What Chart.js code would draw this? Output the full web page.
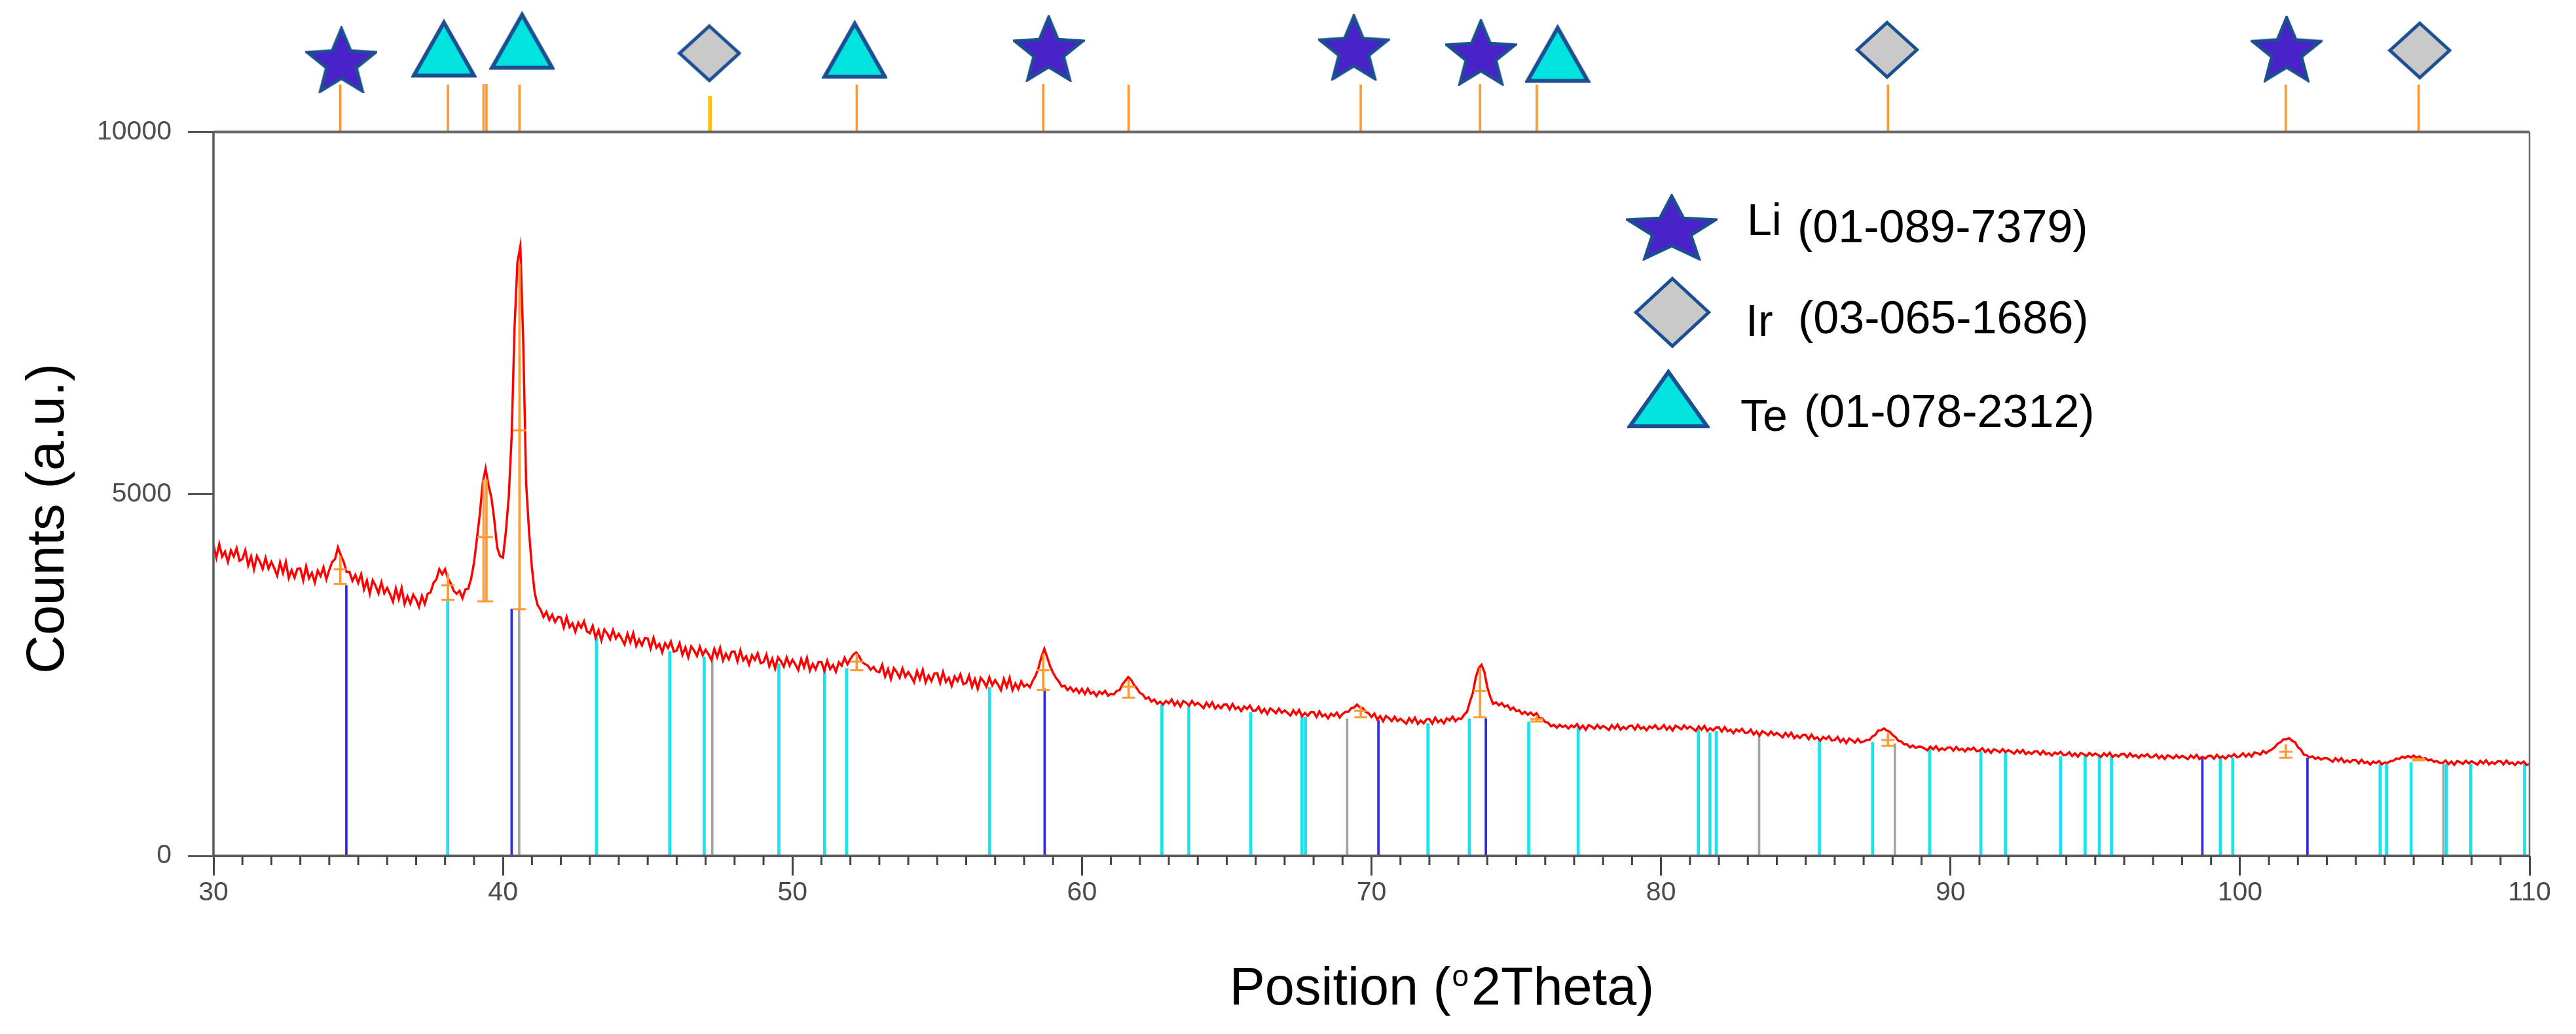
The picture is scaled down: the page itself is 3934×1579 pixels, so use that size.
<!DOCTYPE html>
<html>
<head>
<meta charset="utf-8">
<script src="https://cdn.jsdelivr.net/npm/chart.js@4.4.1/dist/chart.umd.min.js"></script>
<style>
html,body{margin:0;padding:0;background:#fff;}
#wrap{width:3934px;height:1579px;position:relative;}
</style>
</head>
<body>
<div id="wrap"><canvas id="c"></canvas></div>
<script>
// ---------- measured pattern (2Theta grid start / step, counts) ----------
const angleStart = 30;
const angleStep = 0.1;
const counts = [
4290,4118,4306,4134,4202,4060,4218,4136,4249,4077,
4100,4222,4014,4136,3958,4140,4067,3964,4116,3968,
4060,3973,3871,4054,3907,4060,3838,3946,3844,3967,
3970,3805,4000,3835,3910,3775,3940,3865,3985,3820,
3950,4060,4100,4260,4150,4060,3920,3920,3800,3880,
3770,3891,3682,3803,3624,3805,3731,3627,3778,3629,
3700,3613,3511,3694,3547,3700,3478,3586,3484,3607,
3540,3440,3590,3480,3620,3640,3770,3820,3960,3890,
3960,3830,3760,3660,3620,3660,3560,3680,3690,3830,
4050,4380,4720,5150,5350,5120,4950,4640,4260,4140,
4120,4480,4960,5800,7300,8200,8420,7100,5150,4480,
3980,3620,3460,3400,3300,3370,3260,3330,3230,3300,
3292,3152,3300,3160,3212,3096,3220,3152,3240,3100,
3076,3177,3014,3116,2977,3126,3072,2993,3118,3004,
3068,3000,2920,3068,2952,3076,2900,2988,2908,3008,
3002,2863,3012,2874,2927,2812,2938,2871,2960,2822,
2836,2938,2777,2879,2742,2892,2839,2761,2888,2774,
2848,2784,2707,2859,2746,2874,2701,2793,2716,2820,
2822,2686,2837,2701,2756,2644,2771,2707,2798,2662,
2676,2780,2620,2724,2588,2741,2689,2613,2741,2629,
2708,2644,2567,2719,2606,2734,2561,2653,2576,2680,
2680,2558,2696,2580,2637,2544,2673,2629,2736,2647,
2720,2780,2810,2760,2680,2650,2630,2570,2610,2550,
2536,2638,2477,2579,2442,2592,2539,2461,2588,2474,
2538,2475,2399,2552,2441,2569,2398,2491,2415,2520,
2522,2387,2539,2404,2461,2349,2478,2415,2507,2372,
2386,2492,2334,2440,2306,2460,2410,2336,2466,2356,
2428,2365,2289,2442,2331,2459,2288,2381,2305,2410,
2340,2370,2330,2420,2490,2600,2750,2860,2740,2620,
2530,2460,2410,2340,2350,2290,2330,2270,2310,2250,
2306,2236,2310,2240,2266,2208,2270,2236,2280,2211,
2240,2230,2280,2290,2370,2420,2470,2430,2360,2310,
2250,2230,2170,2190,2130,2160,2100,2130,2090,2140,
2108,2160,2080,2132,2064,2140,2114,2076,2140,2084,
2114,2081,2041,2116,2059,2121,2034,2079,2039,2090,
2091,2022,2098,2029,2056,2000,2063,2030,2075,2006,
2008,2059,1978,2030,1961,2036,2009,1970,2034,1977,
2009,1976,1936,2011,1954,2016,1929,1974,1934,1985,
1986,1918,1995,1927,1955,1900,1964,1932,1979,1911,
1960,1990,1990,2040,2050,2090,2050,2040,1990,1970,
1918,1966,1883,1931,1860,1932,1903,1861,1922,1862,
1894,1862,1825,1901,1845,1910,1824,1870,1833,1885,
1891,1828,1910,1847,1880,1830,1899,1872,1924,1861,
1900,1890,1950,1990,2130,2250,2460,2590,2640,2540,
2330,2200,2100,2120,2080,2110,2060,2080,2020,2050,
2000,2010,1960,1990,1950,1980,1940,1970,1900,1900,
1850,1840,1790,1810,1770,1810,1780,1800,1760,1800,
1777,1821,1755,1799,1743,1807,1786,1755,1808,1762,
1795,1770,1740,1805,1759,1812,1742,1781,1751,1795,
1800,1745,1810,1755,1780,1735,1790,1765,1805,1750,
1762,1807,1742,1787,1732,1797,1777,1747,1802,1757,
1785,1758,1727,1790,1743,1796,1726,1764,1732,1773,
1775,1717,1779,1721,1743,1695,1747,1719,1756,1698,
1702,1744,1676,1718,1660,1722,1699,1666,1718,1670,
1700,1671,1637,1699,1650,1701,1627,1663,1629,1670,
1670,1612,1674,1616,1638,1590,1642,1614,1651,1593,
1600,1642,1574,1616,1558,1620,1597,1564,1616,1568,
1580,1600,1600,1650,1670,1730,1735,1760,1730,1715,
1670,1640,1590,1580,1540,1540,1500,1525,1490,1510,
1506,1484,1459,1509,1472,1514,1457,1487,1462,1496,
1499,1454,1505,1461,1481,1443,1486,1465,1496,1447,
1454,1488,1434,1469,1423,1474,1456,1431,1474,1434,
1461,1438,1412,1461,1423,1464,1406,1435,1409,1442,
1444,1399,1449,1404,1422,1385,1428,1406,1437,1391,
1397,1432,1380,1415,1371,1422,1404,1379,1422,1386,
1414,1393,1368,1418,1380,1424,1366,1397,1372,1407,
1409,1364,1416,1372,1392,1355,1396,1375,1406,1360,
1367,1402,1349,1384,1339,1390,1372,1348,1391,1354,
1381,1360,1336,1388,1351,1395,1339,1370,1344,1380,
1384,1342,1396,1354,1376,1342,1388,1370,1404,1362,
1377,1418,1371,1412,1373,1430,1419,1400,1449,1418,
1450,1470,1500,1550,1570,1610,1610,1625,1590,1570,
1500,1470,1400,1390,1360,1375,1340,1360,1330,1350,
1351,1328,1300,1349,1310,1350,1291,1320,1292,1325,
1324,1278,1328,1281,1299,1261,1303,1280,1310,1264,
1290,1285,1310,1315,1345,1340,1370,1355,1380,1360,
1385,1355,1375,1340,1350,1320,1330,1300,1310,1285,
1282,1318,1266,1302,1258,1310,1294,1270,1314,1278,
1306,1285,1261,1313,1277,1320,1264,1294,1270,1305,
1309,1264,1316,1271,1291,1254,1297,1276,1302,1256,
1270
];

// ---------- reference stick patterns ----------
const liPos = [34.59, 40.30, 58.71, 70.24, 73.95, 98.70, 102.33];
const liHeight = [3735, 3410, 2307, 1874, 1895, 1354, 1354];
const irPos = [40.56, 47.23, 69.16, 83.39, 88.08, 107.03];
const irHeight = [3410, 2748, 1895, 1657, 1549, 1268];
const tePos = [38.09, 43.23, 45.76, 46.95, 49.53, 51.11, 51.87, 56.81, 62.76, 63.69, 65.83, 67.60, 67.72, 71.95, 73.38, 75.43, 77.14, 81.29, 81.69, 81.91, 85.47, 87.31, 89.28, 91.05, 91.90, 93.80, 94.65, 95.14, 95.56, 99.32, 99.75, 104.84, 105.06, 105.91, 107.13, 107.97, 109.83];
const teHeight = [3519, 3021, 2826, 2748, 2653, 2575, 2588, 2328, 2090, 2090, 1982, 1917, 1917, 1830, 1895, 1852, 1787, 1744, 1701, 1722, 1614, 1571, 1484, 1441, 1419, 1376, 1376, 1376, 1376, 1354, 1354, 1268, 1268, 1289, 1268, 1268, 1268];

// ---------- found peaks (orange markers) ----------
const peakPos  = [34.38, 38.10, 39.33, 39.43, 40.57, 52.22, 58.66, 61.61, 69.63, 73.75, 75.71, 87.84, 101.58, 106.17];
const peakBase = [3757, 3535, 3515, 3515, 3406, 2564, 2292, 2186, 1915, 1915, 1855, 1519, 1355, 1320];
const peakMid  = [3959, 3737, 4403, 4403, 5878, 2684, 2564, 2337, 2005, 2277, 1890, 1600, 1437, 1338];
const peakTop  = [4141, 3898, 5191, 5191, 8181, 2790, 2790, 2437, 2069, 2594, 1939, 1700, 1540, 1355];
const peakTickTop = [10650, 10650, 10660, 10660, 10650, 10650, 10660, 10650, 10650, 10660, 10650, 10650, 10650, 10650];
const extraTickPos = [47.15];
const extraTickTop = [10490];

// ---------- phase symbols above the frame ----------
const liSymPos = [34.42, 58.85, 69.39, 73.78, 101.61];
const liSymY   = [10995, 11153, 11167, 11099, 11148];
const teSymPos = [37.96, 40.66, 52.15, 76.43];
const teSymY   = [11158, 11266, 11144, 11085];
const irSymPos = [47.13, 87.81, 106.21];
const irSymY   = [11086, 11135, 11126];

// ---------- axes / labels ----------
const yTickValues = [0, 5000, 10000];
const legendNames = ['Li', 'Ir', 'Te'];
const legendCodes = ['(01-089-7379)', '(03-065-1686)', '(01-078-2312)'];
const xTitleMain = ['Position (', 'o', '2Theta)'];
const yTitle = 'Counts (a.u.)';

const FAM = "'Liberation Sans', Arial, Helvetica, sans-serif";
const EDGE = '#1c4e92';

function makeMarker(kind, w, h) {
  const c = document.createElement('canvas');
  c.width = Math.round(w); c.height = Math.round(h);
  const g = c.getContext('2d');
  const lw = kind === 'tri' ? 6 : 5;
  const p = lw / 2 + 1;
  g.beginPath();
  if (kind === 'star') {
    const sx = (w - 2 * p) / 1.902, sy = (h - 2 * p) / 1.809;
    for (let k = 0; k < 10; k++) {
      const a = -Math.PI / 2 + k * Math.PI / 5;
      const rr = k % 2 === 0 ? 1 : 0.44;
      const X = p + (Math.cos(a) * rr + 0.951) * sx;
      const Y = p + (Math.sin(a) * rr + 1) * sy;
      if (k) g.lineTo(X, Y); else g.moveTo(X, Y);
    }
    g.fillStyle = '#4a22c9';
  } else if (kind === 'tri') {
    g.moveTo(w / 2, p + 3); g.lineTo(w - p, h - p); g.lineTo(p, h - p);
    g.fillStyle = '#00e3df';
  } else {
    g.moveTo(w / 2, p); g.lineTo(w - p, h / 2); g.lineTo(w / 2, h - p); g.lineTo(p, h / 2);
    g.fillStyle = '#c9c9c9';
  }
  g.closePath();
  g.fill();
  g.lineJoin = 'miter';
  g.strokeStyle = EDGE; g.lineWidth = lw; g.stroke();
  return c;
}
const starImg = makeMarker('star', 110, 102);
const triImg = makeMarker('tri', 100, 92);
const diaImg = makeMarker('dia', 98, 90);
const legendImgs = [makeMarker('star', 140, 102), makeMarker('dia', 118, 110), makeMarker('tri', 126, 94)];

const sticks = (pos, h) => pos.map((p, i) => ({ x: p, y: [0, h[i]] }));
const pts = (pos, v) => pos.map((p, i) => ({ x: p, y: v[i] }));

const pattern = counts.map((c, i) => ({ x: +(angleStart + i * angleStep).toFixed(2), y: c }));

function line(ctx, x1, y1, x2, y2) { ctx.beginPath(); ctx.moveTo(x1, y1); ctx.lineTo(x2, y2); ctx.stroke(); }

const decor = {
  id: 'decor',
  afterDatasetsDraw(chart) {
    const { ctx, chartArea: a, scales: { x, y } } = chart;
    const y0 = y.getPixelForValue(0), y1 = y.getPixelForValue(10000);
    ctx.save();
    ctx.strokeStyle = '#6a6a6a';
    ctx.lineWidth = 4; line(ctx, a.left, y1, a.right, y1);
    ctx.lineWidth = 2.5; line(ctx, a.right, y1, a.right, y0);
    ctx.strokeStyle = '#5a5a5a';
    ctx.lineWidth = 3.5; line(ctx, a.left, y1, a.left, y0 + 2);
    ctx.lineWidth = 4; line(ctx, a.left, y0, a.right, y0);
    ctx.strokeStyle = '#444';
    ctx.lineWidth = 3;
    for (let v = 31; v < 110; v++) {
      if (v % 10 === 0) continue;
      const px = x.getPixelForValue(v);
      line(ctx, px, y0, px, y0 + 14);
    }
    ctx.restore();
  },
  afterDraw(chart) {
    const { ctx } = chart;
    ctx.save();
    ctx.fillStyle = '#000';
    // y title
    ctx.save();
    ctx.translate(97, 792);
    ctx.rotate(-Math.PI / 2);
    ctx.font = `82px ${FAM}`;
    ctx.textAlign = 'center'; ctx.textBaseline = 'alphabetic';
    ctx.fillText(yTitle, 0, 0);
    ctx.restore();
    // x title with raised small o
    ctx.textAlign = 'left'; ctx.textBaseline = 'alphabetic';
    ctx.font = `81px ${FAM}`;
    const w1 = ctx.measureText(xTitleMain[0]).width;
    const w3 = ctx.measureText(xTitleMain[2]).width;
    ctx.font = `46px ${FAM}`;
    const wo = ctx.measureText(xTitleMain[1]).width;
    const total = w1 + wo + 6 + w3;
    let sx = 2202 - total / 2;
    ctx.font = `81px ${FAM}`;
    ctx.fillText(xTitleMain[0], sx, 1534);
    ctx.font = `46px ${FAM}`;
    ctx.fillText(xTitleMain[1], sx + w1 + 2, 1506);
    ctx.font = `81px ${FAM}`;
    ctx.fillText(xTitleMain[2], sx + w1 + wo + 6, 1534);
    // legend
    const lx = [2553, 2554, 2548], ly = [347, 477, 608];
    const nx = [2668, 2666, 2658], nb = [359, 513, 658];
    const cx = [2745, 2746, 2755], cb = [370, 509, 652];
    for (let i = 0; i < 3; i++) {
      const im = legendImgs[i];
      ctx.drawImage(im, lx[i] - im.width / 2, ly[i] - im.height / 2);
      ctx.font = `68px ${FAM}`;
      ctx.fillText(legendNames[i], nx[i], nb[i]);
      ctx.font = `70px ${FAM}`;
      ctx.fillText(legendCodes[i], cx[i], cb[i]);
    }
    ctx.restore();
  }
};

const ORANGE = '#ff9a33';

new Chart(document.getElementById('c'), {
  type: 'scatter',
  data: {
    datasets: [
      { type: 'bar', label: 'Te ref', data: sticks(tePos, teHeight), backgroundColor: '#17e4ee', borderWidth: 0, barThickness: 4, grouped: false, order: 6 },
      { type: 'bar', label: 'Ir ref', data: sticks(irPos, irHeight), backgroundColor: '#a3a3a3', borderWidth: 0, barThickness: 3, grouped: false, order: 6 },
      { type: 'bar', label: 'Li ref', data: sticks(liPos, liHeight), backgroundColor: '#2b2be0', borderWidth: 0, barThickness: 3, grouped: false, order: 6 },
      { type: 'line', label: 'pattern', data: pattern, borderColor: '#ff0000', borderWidth: 3.5, pointRadius: 0, tension: 0, showLine: true, fill: false, order: 4 },
      { type: 'bar', label: 'peaks', data: peakPos.map((p, i) => ({ x: p, y: [peakBase[i], peakTop[i]] })), backgroundColor: ORANGE, borderWidth: 0, barThickness: 3, grouped: false, order: 2 },
      { type: 'scatter', label: 'peak caps', data: pts(peakPos, peakBase).concat(pts(peakPos, peakMid)), pointStyle: 'line', pointRadius: 10, borderColor: ORANGE, borderWidth: 3, order: 2 },
      { type: 'bar', label: 'peak ticks', data: peakPos.map((p, i) => ({ x: p, y: [10000, peakTickTop[i]] })), backgroundColor: ORANGE, borderWidth: 0, barThickness: 3, grouped: false, order: 2 },
      { type: 'bar', label: 'extra tick', data: extraTickPos.map((p, i) => ({ x: p, y: [10000, extraTickTop[i]] })), backgroundColor: '#ffbf00', borderWidth: 0, barThickness: 5, grouped: false, order: 2 },
      { type: 'scatter', label: 'Li', data: pts(liSymPos, liSymY), pointStyle: starImg, pointRadius: 10, order: 0 },
      { type: 'scatter', label: 'Te', data: pts(teSymPos, teSymY), pointStyle: triImg, pointRadius: 10, order: 0 },
      { type: 'scatter', label: 'Ir', data: pts(irSymPos, irSymY), pointStyle: diaImg, pointRadius: 10, order: 0 }
    ]
  },
  options: {
    responsive: true,
    maintainAspectRatio: false,
    devicePixelRatio: 1,
    animation: false,
    events: [],
    layout: { autoPadding: false, padding: { top: 0, right: 71, bottom: 0, left: 0 } },
    plugins: { legend: { display: false }, tooltip: { enabled: false }, title: { display: false } },
    scales: {
      x: {
        type: 'linear', min: 30, max: 110, offset: false,
        afterFit(s) { s.height = 272; s.paddingLeft = 0; s.paddingRight = 0; },
        ticks: { stepSize: 10, autoSkip: false, maxRotation: 0, padding: 2, color: '#4a4a4a', font: { family: FAM, size: 41 }, callback: v => String(v) },
        grid: { display: true, offset: false, drawOnChartArea: false, drawTicks: true, tickLength: 30, color: '#444', lineWidth: 3 },
        border: { display: false }
      },
      y: {
        type: 'linear', min: 0, max: 11822,
        afterFit(s) { s.width = 326; s.paddingTop = 0; s.paddingBottom = 0; },
        afterBuildTicks(s) { s.ticks = yTickValues.map(v => ({ value: v })); },
        ticks: { padding: 25, color: '#4f4f4f', font: { family: FAM, size: 41 }, callback: v => String(v) },
        grid: { display: true, offset: false, drawOnChartArea: false, drawTicks: true, tickLength: 39, color: '#555', lineWidth: 3 },
        border: { display: false }
      }
    }
  },
  plugins: [decor]
});
</script>
</body>
</html>
